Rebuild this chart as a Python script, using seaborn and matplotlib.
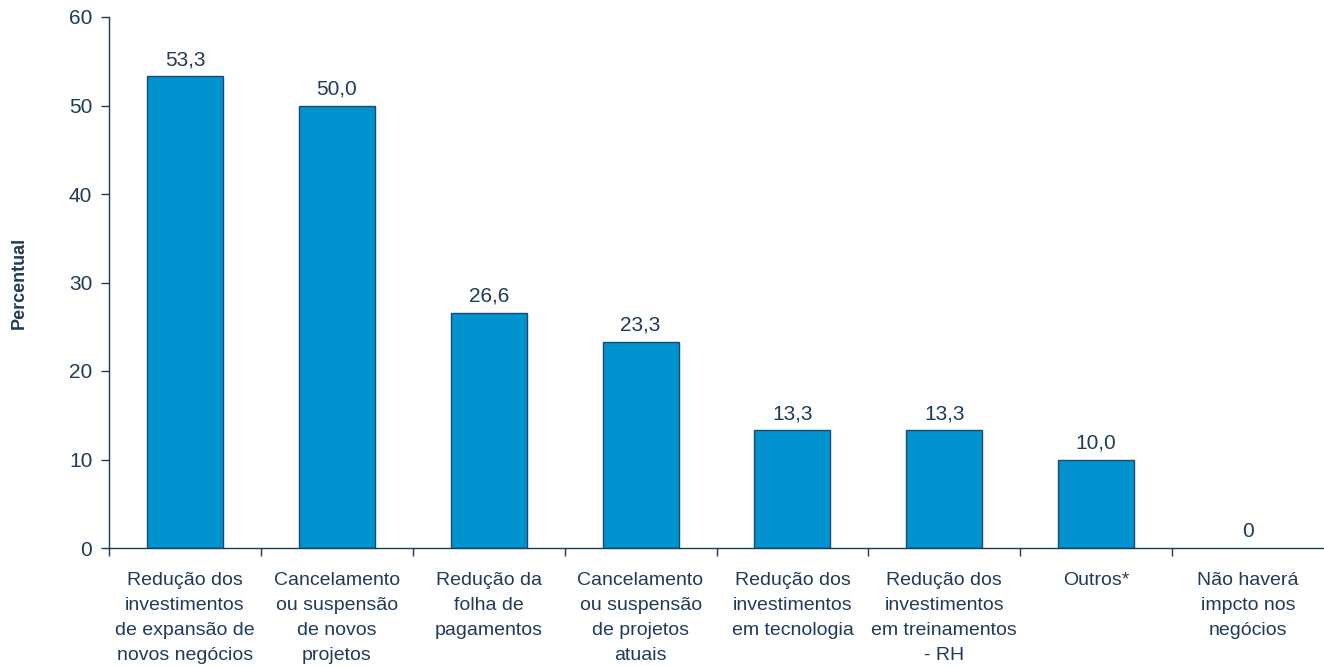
import matplotlib
matplotlib.use("Agg")
import matplotlib.pyplot as plt
import seaborn as sns
import pandas as pd
import numpy as np

categories = [
    "Redução dos\ninvestimentos\nde expansão de\nnovos negócios",
    "Cancelamento\nou suspensão\nde novos\nprojetos",
    "Redução da\nfolha de\npagamentos",
    "Cancelamento\nou suspensão\nde projetos\natuais",
    "Redução dos\ninvestimentos\nem tecnologia",
    "Redução dos\ninvestimentos\nem treinamentos\n- RH",
    "Outros*",
    "Não haverá\nimpcto nos\nnegócios",
]
values = [53.3, 50.0, 26.6, 23.3, 13.3, 13.3, 10.0, 0.0]
value_labels = ["53,3", "50,0", "26,6", "23,3", "13,3", "13,3", "10,0", "0"]
y_ticks = [0, 10, 20, 30, 40, 50, 60]

sns.set_theme(style="white")
plt.rcParams["font.family"] = ["Liberation Sans", "DejaVu Sans"]

text_color = "#1F3B5C"
bar_color = "#0093D0"
edge_color = "#1B4A6B"

df = pd.DataFrame({"cat": categories, "val": values})

fig = plt.figure(figsize=(13.24, 6.66), dpi=100)
ax = fig.add_axes([109 / 1324, 1 - 548 / 666, 1 - 109 / 1324, (548 - 17) / 666])

sns.barplot(data=df, x="cat", y="val", color=bar_color, width=0.5,
            edgecolor=edge_color, linewidth=1.0, saturation=1, ax=ax)
for p, v in zip(ax.patches, values):
    if v == 0:
        p.set_linewidth(0)

ax.set_xlim(-0.5, len(categories) - 0.5)
ax.set_ylim(0, 60)
ax.set_yticks(y_ticks)
ax.set_yticklabels([str(t) for t in y_ticks])
ax.set_xticks(np.arange(len(categories)))
ax.set_xticklabels(categories, linespacing=1.63)
ax.set_xticks(np.arange(len(categories)) - 0.5, minor=True)
ax.tick_params(axis="x", which="major", length=0, pad=17, labelsize=14, colors=text_color)
ax.tick_params(axis="x", which="minor", length=6, width=1, color=text_color, direction="out", bottom=True)
ax.tick_params(axis="y", length=6, width=1, color=text_color, direction="out", left=True,
               labelsize=15, labelcolor=text_color, pad=6)
for lbl in ax.get_xticklabels():
    lbl.set_verticalalignment("top")

ax.set_xlabel("")
ax.set_ylabel("Percentual", fontsize=13, fontweight="bold", color=text_color)
ax.yaxis.set_label_coords((28 - 109) / 1215, 0.5)

for s in ["top", "right"]:
    ax.spines[s].set_visible(False)
for s in ["left", "bottom"]:
    ax.spines[s].set_color(text_color)
    ax.spines[s].set_linewidth(1)

for i, (v, lab) in enumerate(zip(values, value_labels)):
    ax.annotate(lab, (i, v), xytext=(0, 5), textcoords="offset points",
                ha="center", va="bottom", fontsize=15, color=text_color)

fig.savefig("out.png", dpi=100)
